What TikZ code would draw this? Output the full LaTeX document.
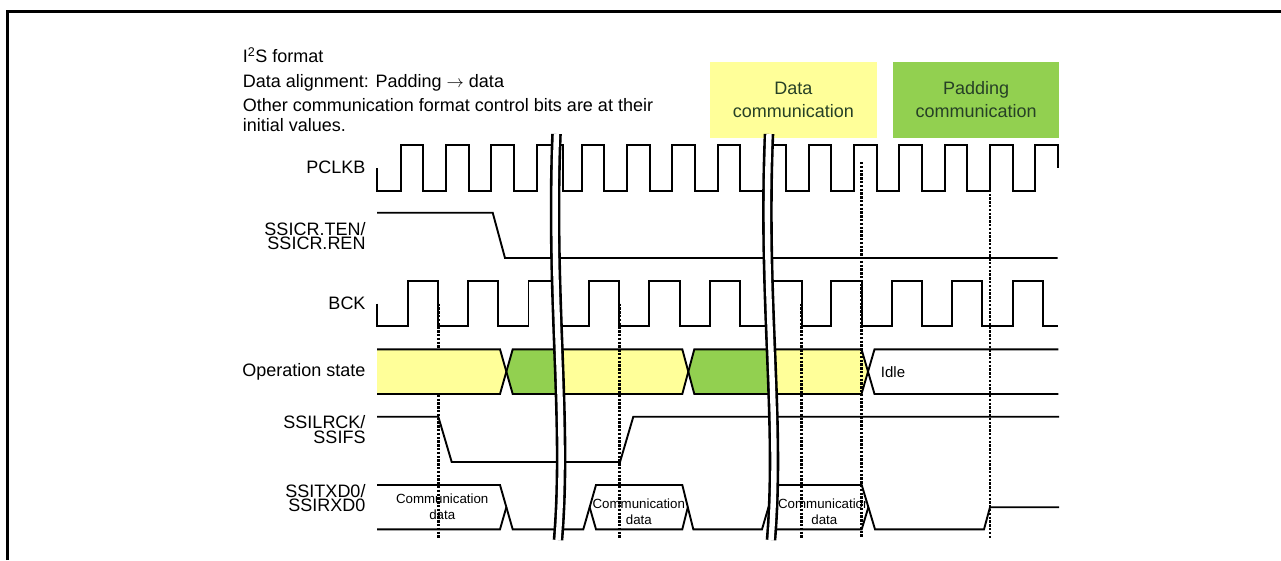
\documentclass[tikz,border=0pt]{standalone}
\usepackage{fontspec}
\setmainfont{Liberation Sans}
\usetikzlibrary{positioning}
\definecolor{datafill}{RGB}{255,255,153}
\definecolor{padfill}{RGB}{146,208,80}
\definecolor{keytext}{RGB}{38,64,38}

\begin{document}
\begin{tikzpicture}[
  x=1pt, y=-1pt,
  sig/.style={line width=1.9pt, line join=miter},
  dotln/.style={line width=2.7pt, dash pattern=on 2.4pt off 1.4pt},
  brk/.style={line width=2.6pt, double=white, double distance=5.4pt},
  lbl/.style={font={\fontsize{18}{14.5}\selectfont\lineskiplimit=-20pt},
              align=right, inner sep=0pt},
  hdr/.style={font=\fontsize{18}{20}\selectfont, align=left, inner sep=0pt},
  key/.style={minimum width=166.7pt, minimum height=76pt, inner sep=0pt,
              align=center, text=keytext, font=\fontsize{18}{23}\selectfont},
  busnote/.style={font=\fontsize{13.3}{15.5}\selectfont, align=center,
                  inner sep=0pt}
]
  \useasboundingbox (0,0) rectangle (1281,560);
  % Frame
  \draw[line width=3pt] (7.5,560) -- (7.5,11.3) -- (1281,11.3);

  % Conditions
  \node[hdr, anchor=base west] (fmt) at (242.7,62.7) {I\textsuperscript{2}S format};
  \node[hdr, anchor=base west] (dalign) at (242.7,87.3)
    {Data alignment: Padding $\rightarrow$ data};
  \node[hdr, anchor=north west] (ctrl) at (242.7,98.7)
    {Other communication format control bits are at their\\initial values.};

  % Legend
  \node[key, fill=datafill] (datakey) at (793.35,99.7) {Data\\communication};
  \node[key, fill=padfill, right=15.6pt of datakey] (padkey) {Padding\\communication};

  % Signal names
  \node[lbl, anchor=base east] (pclk) at (365.7,173.3) {PCLKB};
  \node[lbl, anchor=north east] (ten) at (365.7,222.2) {SSICR.TEN/\\SSICR.REN};
  \node[lbl, anchor=base east] (bck) at (365.7,309.3) {BCK};
  \node[lbl, anchor=base east] (opst) at (365.7,376.4) {Operation state};
  \node[lbl, anchor=north east] (lrck) at (365.7,415.6) {SSILRCK/\\SSIFS};
  \node[lbl, anchor=north east] (txd) at (365.7,483.8) {SSITXD0/\\SSIRXD0};

  % First marker sits under the state fill
  \draw[dotln] (438.3,303.5) -- (438.3,538);

  % Part before the first break
  \begin{scope}
    \clip (300,100) -- (556.5,100) -- (556.5,134)
      .. controls (550,300) and (568,420) .. (558,540) -- (558,560) -- (300,560) -- cycle;
    \fill[datafill] (377,349.3) -- (500,349.3) -- (506.35,371.7) -- (500,394) -- (377,394) -- cycle;
    \fill[padfill] (506.35,371.7) -- (512.7,349.3) -- (580,349.3) -- (580,394) -- (512.7,394) -- cycle;
    \draw[sig] (377,349.3) -- (500,349.3) -- (512.7,394) -- (580,394);
    \draw[sig] (377,394) -- (500,394) -- (512.7,349.3) -- (580,349.3);
    \draw[sig] (377,168) -- (377,190.7)
      foreach \x in {400.7,446,491.3,536.7} { -| (\x,145) -| (\x+22.65,190.7) };
    \draw[sig] (377,303.5) -- (377,326)
      foreach \x in {407.7,468.1,528.5} { -| (\x,281) -| (\x+30.2,326) };
    \draw[sig] (377,485) -- (500,485) -- (512.7,529.3) -- (580,529.3);
    \draw[sig] (377,529.3) -- (500,529.3) -- (506.35,507.2);
  \end{scope}

  % Part between the breaks
  \begin{scope}
    \clip (556.5,100) -- (556.5,134)
      .. controls (550,300) and (568,420) .. (558,540) -- (558,560) -- (771,560) -- (771,540)
      .. controls (781,420) and (762,300) .. (769,134) -- (769,100) -- cycle;
    \fill[datafill] (540,349.3) -- (682.3,349.3) -- (688.3,371.7) -- (682.3,394) -- (540,394) -- cycle;
    \fill[padfill] (688.3,371.7) -- (694.3,349.3) -- (780,349.3) -- (780,394) -- (694.3,394) -- cycle;
    \draw[sig] (540,349.3) -- (682.3,349.3) -- (694.3,394) -- (780,394);
    \draw[sig] (540,394) -- (682.3,394) -- (694.3,349.3) -- (780,349.3);
    \draw[sig] (540,145) -| (562.7,190.7)
      foreach \x in {581.7,627,672.3,717.6} { -| (\x,145) -| (\x+22.65,190.7) } -- (780,190.7);
    \draw[sig] (540,326)
      foreach \x in {589,649.4,709.8} { -| (\x,281) -| (\x+30.2,326) } -- (780,326);
    \draw[sig] (540,529.3) -- (583.3,529.3) -- (596,485) -- (682.3,485) -- (693.3,529.3)
      -- (762,529.3) -- (775,485);
    \draw[sig] (589.65,507.2) -- (596,529.3) -- (682.3,529.3) -- (687.8,507.2);
  \end{scope}

  % Part after the second break
  \begin{scope}
    \clip (769,100) -- (769,134)
      .. controls (762,300) and (781,420) .. (771,540) -- (771,560) -- (1100,560) -- (1100,100) -- cycle;
    \fill[datafill] (760,349.3) -- (861.5,349.3) -- (868,371.7) -- (861.5,394) -- (760,394) -- cycle;
    \draw[sig] (760,349.3) -- (861.5,349.3) -- (874.5,394) -- (1058.3,394);
    \draw[sig] (760,394) -- (861.5,394) -- (874.5,349.3) -- (1058.3,349.3);
    \draw[sig] (760,145) -| (786,190.7)
      foreach \x in {808.7,854,899.3,944.6,989.9} { -| (\x,145) -| (\x+22.65,190.7) }
      -| (1035.2,145) -| (1057.85,168);
    \draw[sig] (760,281) -| (801.7,326)
      foreach \x in {831.4,891.8,952.2,1012.6} { -| (\x,281) -| (\x+30.2,326) } -- (1058.3,326);
    \draw[sig] (760,485) -- (861.7,485) -- (875,529.3) -- (984,529.3) -- (990,507.2) -- (1059,507.2);
    \draw[sig] (760,529.3) -- (861.7,529.3) -- (868.35,507.2);
  \end{scope}

  % Enable and frame sync
  \draw[sig] (377,212.7) -- (492.7,212.7) -- (505,258) -- (1057.7,258);
  \draw[sig] (377,416.7) -- (438.3,416.7) -- (451.7,462) -- (620,462) -- (633.3,416.7) -- (1059,416.7);

  % Texts in the buses
  \node[busnote] (cd1) at (442.2,506.7) {Communication\\data};
  \node[busnote] (cd2) at (638.8,511.7) {Communication\\data};
  \begin{scope}
    \clip (776,486) rectangle (866,528);
    \node[busnote] (cd3) at (824.3,511.7) {Communication\\data};
  \end{scope}
  \node[font=\fontsize{15}{18}\selectfont, anchor=west, inner sep=0pt] (idle) at (880.7,371.7) {Idle};

  % Timing markers
  \foreach \x/\ys in {619.3/303.5, 801.7/303.5, 861.5/162, 990/167}
    \draw[dotln] (\x,\ys) -- (\x,538);

  % Breaks
  \draw[brk] (556.5,134) .. controls (550,300) and (568,420) .. (558,540);
  \draw[brk] (769,134) .. controls (762,300) and (781,420) .. (771,540);
\end{tikzpicture}
\end{document}
